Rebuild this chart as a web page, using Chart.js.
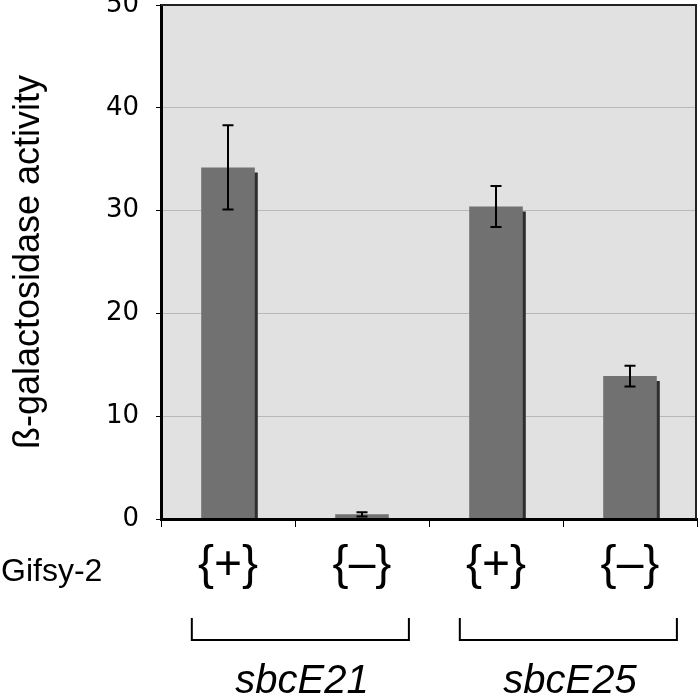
<!DOCTYPE html>
<html lang="en">
<head>
<meta charset="UTF-8" />
<title>ß-galactosidase activity</title>
<script src="https://cdn.jsdelivr.net/npm/chart.js"></script>
<style>
  body{margin:0;background:#fff;}
  #wrap{width:700px;height:695px;}
</style>
</head>
<body>
<div id="wrap"><canvas id="chart" width="700" height="695"></canvas></div>
<script>
// values
const categories = ['{+}', '{–}', '{+}', '{–}'];
const activity = [34.2, 0.45, 30.4, 13.9];
const errors = [4.1, 0.2, 2.0, 1.0];
const yTicks = [0, 10, 20, 30, 40, 50];
const rowLabel = 'Gifsy-2';
const groups = ['sbcE21', 'sbcE25'];
const groupMembers = [[0, 1], [2, 3]];

const extras = {
  id: 'extras',
  beforeDraw(c) {
    const {ctx, chartArea: a} = c;
    ctx.save();
    ctx.fillStyle = '#fff';
    ctx.fillRect(0, 0, c.width, c.height);
    ctx.fillStyle = '#e1e1e1';
    ctx.fillRect(a.left, a.top, a.right - a.left, a.bottom - a.top);
    ctx.restore();
  },
  beforeDatasetsDraw(c) {
    // drop shadow to the lower right of each bar
    const ctx = c.ctx;
    ctx.save();
    ctx.shadowColor = '#2e2e2e';
    ctx.shadowOffsetX = 3;
    ctx.shadowOffsetY = 5;
    ctx.shadowBlur = 0;
  },
  afterDatasetsDraw(c) {
    const ctx = c.ctx;
    ctx.restore();
    const y = c.scales.y;
    const meta = c.getDatasetMeta(0);
    ctx.save();
    ctx.strokeStyle = '#000';
    ctx.lineWidth = 2;
    meta.data.forEach((bar, i) => {
      const t = y.getPixelForValue(activity[i] + errors[i]);
      const b = y.getPixelForValue(activity[i] - errors[i]);
      ctx.beginPath();
      ctx.moveTo(bar.x, t); ctx.lineTo(bar.x, b);
      ctx.moveTo(bar.x - 5.5, t); ctx.lineTo(bar.x + 5.5, t);
      ctx.moveTo(bar.x - 5.5, b); ctx.lineTo(bar.x + 5.5, b);
      ctx.stroke();
    });
    ctx.restore();
  },
  afterDraw(c) {
    const {ctx, chartArea: a} = c;
    const x = c.scales.x;
    ctx.save();
    // top and right frame
    ctx.strokeStyle = '#222';
    ctx.lineWidth = 2;
    ctx.beginPath();
    ctx.moveTo(a.left, a.top); ctx.lineTo(a.right - 1, a.top); ctx.lineTo(a.right - 1, a.bottom);
    ctx.stroke();

    ctx.fillStyle = '#000';
    ctx.font = '32px "Liberation Sans", Arial, sans-serif';
    ctx.textAlign = 'left';
    ctx.textBaseline = 'alphabetic';
    ctx.fillText(rowLabel, 1, 581);

    const w = (a.right - a.left) / categories.length;
    ctx.strokeStyle = '#000';
    ctx.lineWidth = 2;
    ctx.font = 'italic 40px "Liberation Sans", Arial, sans-serif';
    ctx.textAlign = 'center';
    groups.forEach((g, k) => {
      const m = groupMembers[k];
      const c0 = x.getPixelForValue(m[0]);
      const c1 = x.getPixelForValue(m[m.length - 1]);
      const x0 = c0 - 0.27 * w;
      const x1 = c1 + 0.35 * w;
      ctx.beginPath();
      ctx.moveTo(x0, 618); ctx.lineTo(x0, 640); ctx.lineTo(x1, 640); ctx.lineTo(x1, 618);
      ctx.stroke();
      ctx.fillText(g, (c0 + c1) / 2 + 7, 693);
    });
    ctx.restore();
  }
};

new Chart(document.getElementById('chart'), {
  type: 'bar',
  data: {
    labels: categories,
    datasets: [{
      data: activity,
      backgroundColor: '#717171',
      borderWidth: 0,
      barPercentage: 0.4,
      categoryPercentage: 1,
      clip: 0
    }]
  },
  options: {
    responsive: false,
    animation: false,
    devicePixelRatio: 1,
    layout: {padding: {top: 5, right: 3, left: 0, bottom: 0}},
    plugins: {legend: {display: false}, tooltip: {enabled: false}},
    scales: {
      x: {
        offset: true,
        grid: {offset: true, drawOnChartArea: false, tickLength: 8, tickColor: '#000', tickWidth: 1},
        border: {color: '#000', width: 3, z: 1},
        ticks: {
          color: '#000', padding: 10, maxRotation: 0, autoSkip: false,
          font: {family: '"Liberation Sans", Arial, sans-serif', size: 48}
        },
        afterFit(s) { s.height = 176; s.paddingLeft = 0; s.paddingRight = 0; }
      },
      y: {
        min: 0, max: 50,
        afterBuildTicks(s) { s.ticks = yTicks.map(v => ({value: v})); },
        grid: {color: '#b8b8b8', lineWidth: 1, tickLength: 5, tickColor: '#000'},
        border: {color: '#000', width: 3, z: 1},
        ticks: {
          color: '#000', padding: 17,
          font: {family: '"DejaVu Sans", Verdana, sans-serif', size: 26}
        },
        title: {
          display: true,
          text: 'ß-galactosidase activity',
          color: '#000',
          padding: {top: 7, bottom: 0},
          font: {family: '"Liberation Sans", Arial, sans-serif', size: 36}
        },
        afterFit(s) { s.width = 161; s.paddingTop = 0; s.paddingBottom = 0; }
      }
    }
  },
  plugins: [extras]
});
</script>
</body>
</html>
